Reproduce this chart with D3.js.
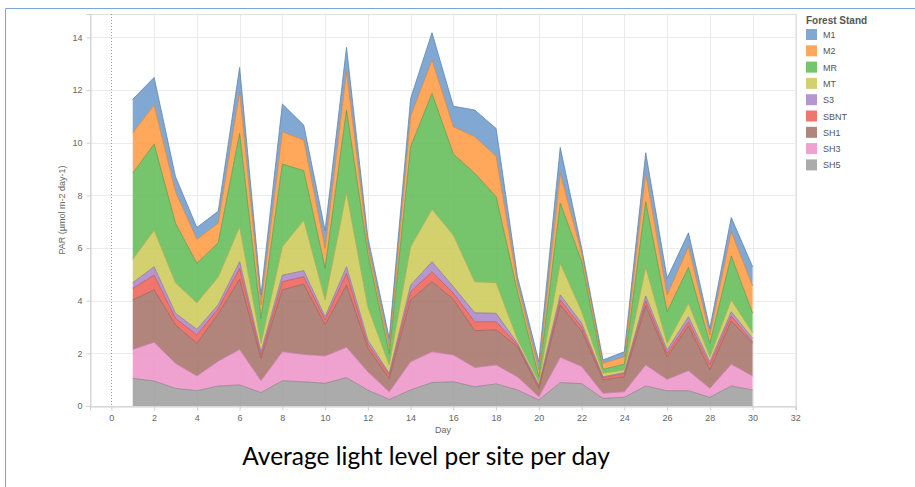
<!DOCTYPE html>
<html>
<head>
<meta charset="utf-8">
<script src="https://cdn.jsdelivr.net/npm/d3@7"></script>
<style>
  html, body { margin: 0; padding: 0; background: #fff; }
  svg { display: block; }
</style>
</head>
<body>
<svg id="chart" width="915" height="487"></svg>
<script>
const days = [1,2,3,4,5,6,7,8,9,10,11,12,13,14,15,16,17,18,19,20,21,22,23,24,25,26,27,28,29,30];
const seriesNames = ["M1","M2","MR","MT","S3","SBNT","SH1","SH3","SH5"];
const seriesColors = ["#729ece","#ff9e4a","#67bf5c","#cdcc5d","#ad8bc9","#ed665d","#a8786e","#ed97ca","#a2a2a2"];

const SH5  = [1.05,0.95,0.67,0.58,0.76,0.80,0.51,0.96,0.92,0.86,1.08,0.60,0.25,0.61,0.89,0.92,0.73,0.84,0.61,0.23,0.89,0.85,0.29,0.33,0.76,0.58,0.58,0.33,0.76,0.61];
const SH3  = [1.10,1.47,0.95,0.56,0.94,1.35,0.45,1.10,1.04,1.04,1.15,0.70,0.29,1.07,1.17,1.02,0.73,0.72,0.50,0.12,0.96,0.65,0.19,0.21,0.80,0.43,0.76,0.34,0.83,0.53];
const SH1  = [1.88,1.99,1.46,1.24,1.80,2.66,0.85,2.35,2.67,1.18,2.36,0.90,0.51,2.35,2.66,2.11,1.40,1.33,1.14,0.32,1.99,1.35,0.51,0.57,2.24,0.86,1.70,0.70,1.64,1.24];
const SBNT = [0.44,0.56,0.25,0.32,0.20,0.42,0.13,0.31,0.28,0.19,0.45,0.15,0.13,0.31,0.38,0.23,0.34,0.31,0.07,0.06,0.19,0.15,0.09,0.11,0.19,0.13,0.16,0.19,0.19,0.06];
const S3   = [0.21,0.32,0.19,0.21,0.15,0.25,0.12,0.25,0.23,0.12,0.25,0.15,0.06,0.25,0.38,0.25,0.34,0.32,0.06,0.07,0.19,0.15,0.03,0.05,0.19,0.13,0.19,0.12,0.16,0.13];
const MT   = [0.89,1.39,1.16,1.01,1.05,1.33,0.32,1.08,1.92,0.64,2.81,1.25,0.32,1.46,1.99,1.96,1.18,1.16,0.15,0.12,1.20,0.45,0.13,0.10,1.09,0.25,0.51,0.19,0.45,0.21];
const MR   = [3.27,3.27,2.26,1.50,1.30,3.54,0.95,3.14,1.88,1.20,3.14,2.05,0.44,3.80,4.40,3.08,4.12,3.27,1.81,0.19,2.28,1.90,0.15,0.22,2.49,1.20,1.37,0.51,1.67,0.74];
const M2   = [1.54,1.48,1.20,0.91,0.75,1.59,0.51,1.23,1.16,0.76,1.46,0.30,0.25,1.16,1.27,1.04,1.39,1.54,0.32,0.26,1.14,0.30,0.23,0.28,1.08,0.64,0.78,0.32,0.92,1.04];
const M1   = [1.27,1.05,0.57,0.45,0.45,0.92,0.38,1.05,0.57,0.67,0.92,0.30,0.32,0.67,1.04,0.78,1.01,1.05,0.25,0.31,0.98,0.20,0.13,0.19,0.78,0.63,0.53,0.25,0.54,0.73];

const xTicks = [0,2,4,6,8,10,12,14,16,18,20,22,24,26,28,30,32];
const yTicks = [0,2,4,6,8,10,12,14];
const xTitle = "Day";
const yTitle = "PAR (µmol m-2 day-1)";
const legendTitle = "Forest Stand";
const caption = "Average light level per site per day";

const valuesByName = {M1, M2, MR, MT, S3, SBNT, SH1, SH3, SH5};
const colorByName = Object.fromEntries(seriesNames.map((n,i)=>[n, seriesColors[i]]));
const stackOrder = seriesNames.slice().reverse(); // SH5 at bottom

const table = days.map((d,i)=>{
  const row = {day: d};
  seriesNames.forEach(n => row[n] = valuesByName[n][i]);
  return row;
});

const svg = d3.select("#chart");
const W = 915, H = 487;
const plot = {left: 90, right: 796, top: 14, bottom: 406};

// outer blue frame (slide border)
svg.append("line").attr("x1",5.5).attr("x2",5.5).attr("y1",8.5).attr("y2",H)
  .attr("stroke","#7aa6dc").attr("stroke-width",1);
svg.append("line").attr("x1",5.5).attr("x2",W).attr("y1",8.5).attr("y2",8.5)
  .attr("stroke","#7aa6dc").attr("stroke-width",1);

const x = d3.scaleLinear().domain([-1, 32.03]).range([plot.left, plot.right]);
const y = d3.scaleLinear().domain([0, 14.89]).range([plot.bottom, plot.top]);

// gridlines
const grid = svg.append("g");
grid.selectAll(".hg").data(yTicks.slice(1)).join("line")
  .attr("x1", plot.left).attr("x2", plot.right)
  .attr("y1", d=>Math.round(y(d))+0.5).attr("y2", d=>Math.round(y(d))+0.5)
  .attr("stroke","#ebebeb");
grid.selectAll(".vg").data(xTicks.filter(d=>d!==0)).join("line")
  .attr("y1", plot.top).attr("y2", plot.bottom)
  .attr("x1", d=>Math.round(x(d))+0.5).attr("x2", d=>Math.round(x(d))+0.5)
  .attr("stroke","#ebebeb");

// plot frame
svg.append("rect").attr("x", plot.left+0.5).attr("y", plot.top+0.5)
  .attr("width", plot.right-plot.left).attr("height", plot.bottom-plot.top)
  .attr("fill","none").attr("stroke","#e0e0e0");

// dotted zero line
svg.append("line").attr("x1", Math.round(x(0))+0.5).attr("x2", Math.round(x(0))+0.5)
  .attr("y1", plot.top).attr("y2", plot.bottom)
  .attr("stroke","#999").attr("stroke-dasharray","1,2");

// stacked areas
const stack = d3.stack().keys(stackOrder);
const layers = stack(table);
const area = d3.area()
  .x(d=>x(d.data.day))
  .y0(d=>y(d[0]))
  .y1(d=>y(d[1]));
const line = d3.line().x(d=>x(d.data.day)).y(d=>y(d[1]));

svg.append("g").selectAll("path").data(layers).join("path")
  .attr("d", area)
  .attr("fill", d=>colorByName[d.key])
  .attr("fill-opacity", 0.9);
svg.append("g").selectAll("path").data(layers).join("path")
  .attr("d", line)
  .attr("fill","none")
  .attr("stroke", d=>d3.color(colorByName[d.key]).darker(0.5))
  .attr("stroke-width", 0.8);

// axes
const axisFont = "'Liberation Sans', Arial, sans-serif";
const xAxis = svg.append("g").attr("transform", `translate(0,${plot.bottom+0.5})`)
  .call(d3.axisBottom(x).tickValues(xTicks).tickSize(4).tickPadding(4));
const yAxis = svg.append("g").attr("transform", `translate(${plot.left+0.5},0)`)
  .call(d3.axisLeft(y).tickValues(yTicks).tickSize(4).tickPadding(4));
[xAxis, yAxis].forEach(a=>{
  a.select(".domain").attr("stroke","#d0d0d0");
  a.selectAll(".tick line").attr("stroke","#d0d0d0");
  a.selectAll(".tick text").attr("fill","#666").style("font-family", axisFont).style("font-size","9px");
});

svg.append("text").attr("x", (plot.left+plot.right)/2).attr("y", 433)
  .attr("text-anchor","middle").attr("fill","#666")
  .style("font-family", axisFont).style("font-size","9px").text(xTitle);
svg.append("text").attr("transform", `translate(65,${(plot.top+plot.bottom)/2}) rotate(-90)`)
  .attr("text-anchor","middle").attr("fill","#666")
  .style("font-family", axisFont).style("font-size","9px").text(yTitle);

// legend
const lg = svg.append("g").attr("transform","translate(806,0)");
lg.append("text").attr("x",0).attr("y",24).attr("fill","#555")
  .style("font-family", axisFont).style("font-size","10px").style("font-weight","bold")
  .text(legendTitle);
const items = lg.selectAll(".item").data(seriesNames).join("g")
  .attr("transform",(d,i)=>`translate(0,${29 + i*16.3})`);
items.append("rect").attr("width",11).attr("height",11)
  .attr("fill", d=>colorByName[d]).attr("fill-opacity",0.9);
items.append("text").attr("x",17).attr("y",9).attr("fill","#555")
  .style("font-family", axisFont).style("font-size","9px").text(d=>d);

// caption
svg.append("text").attr("x", 426).attr("y", 465).attr("text-anchor","middle")
  .attr("fill","#000").style("font-family","Lato, 'Open Sans', sans-serif")
  .style("font-size","24.5px").text(caption);
</script>
</body>
</html>
